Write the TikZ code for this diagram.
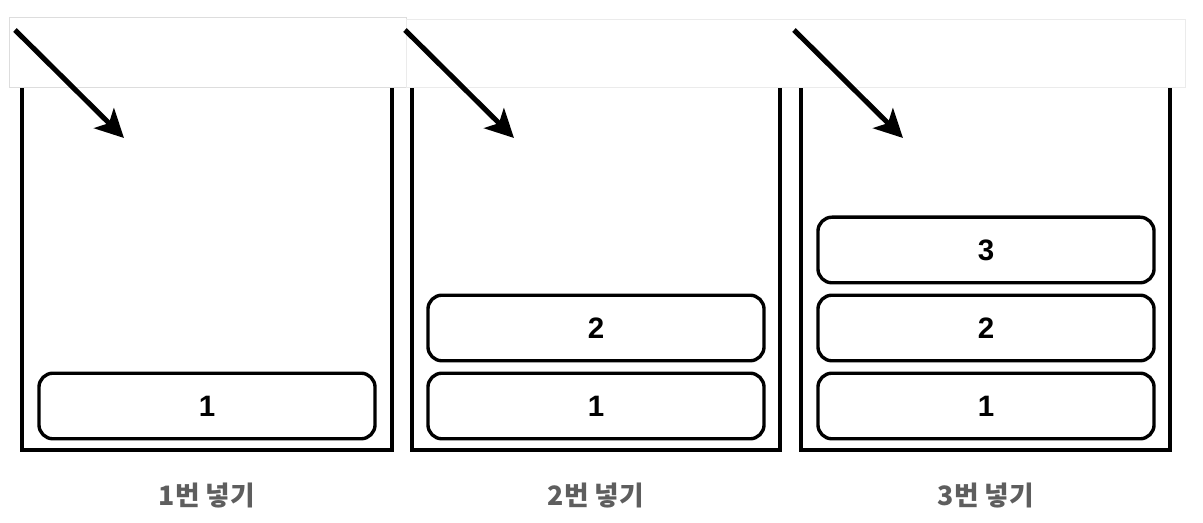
\documentclass[tikz,border=0pt]{standalone}
\usepackage{fontspec}
\setmainfont{Liberation Sans}
\newfontfamily\krfont{Noto Sans CJK KR}
\usetikzlibrary{arrows.meta}
\definecolor{capgray}{HTML}{5E5E5E}
\definecolor{lidgray}{HTML}{DDDDDD}
\tikzset{
  stackbox/.style={draw, line width=2.4pt, rounded corners=10pt, minimum width=8.4cm, minimum height=1.64cm, font=\bfseries\fontsize{21}{24}\selectfont},
  caption/.style={text=capgray, font=\krfont\bfseries\fontsize{19}{21}\selectfont},
  pusharrow/.style={line width=3.6pt, -{Stealth[length=20pt, width=20pt, inset=5pt]}}
}
\begin{document}
\begin{tikzpicture}[x=0.025cm, y=-0.025cm]
\useasboundingbox (0,0) rectangle (1203,523);
% containers
\draw[line width=3pt] (22,60) -- (22,450) -- (392,450) -- (392,60);
\draw[line width=3pt] (412,60) -- (412,450) -- (780,450) -- (780,60);
\draw[line width=3pt] (801,60) -- (801,450) -- (1170,450) -- (1170,60);
% stacked items
\node[stackbox] (a1) at (207,406) {1};
\node[stackbox] (b1) at (596,406) {1};
\node[stackbox] (b2) at (596,328) {2};
\node[stackbox] (c1) at (986,406) {1};
\node[stackbox] (c2) at (986,328) {2};
\node[stackbox] (c3) at (986,250) {3};
% lid
\draw[lidgray, fill=white, line width=0.7pt] (9,17) rectangle (406,87);
\draw[lidgray!60, fill=white, line width=0.7pt] (406,19) rectangle (1185,87);
% arrows
\coordinate (s1) at (15,30);
\coordinate (t1) at (124,138);
\coordinate (s2) at (405,30);
\coordinate (t2) at (514,138);
\coordinate (s3) at (794,30);
\coordinate (t3) at (903,138);
\draw[pusharrow] (s1) -- (t1);
\draw[pusharrow] (s2) -- (t2);
\draw[pusharrow] (s3) -- (t3);
% captions
\node[caption] (l1) at (207,496) {1번 넣기};
\node[caption] (l2) at (596,496) {2번 넣기};
\node[caption] (l3) at (986,496) {3번 넣기};
\end{tikzpicture}
\end{document}
